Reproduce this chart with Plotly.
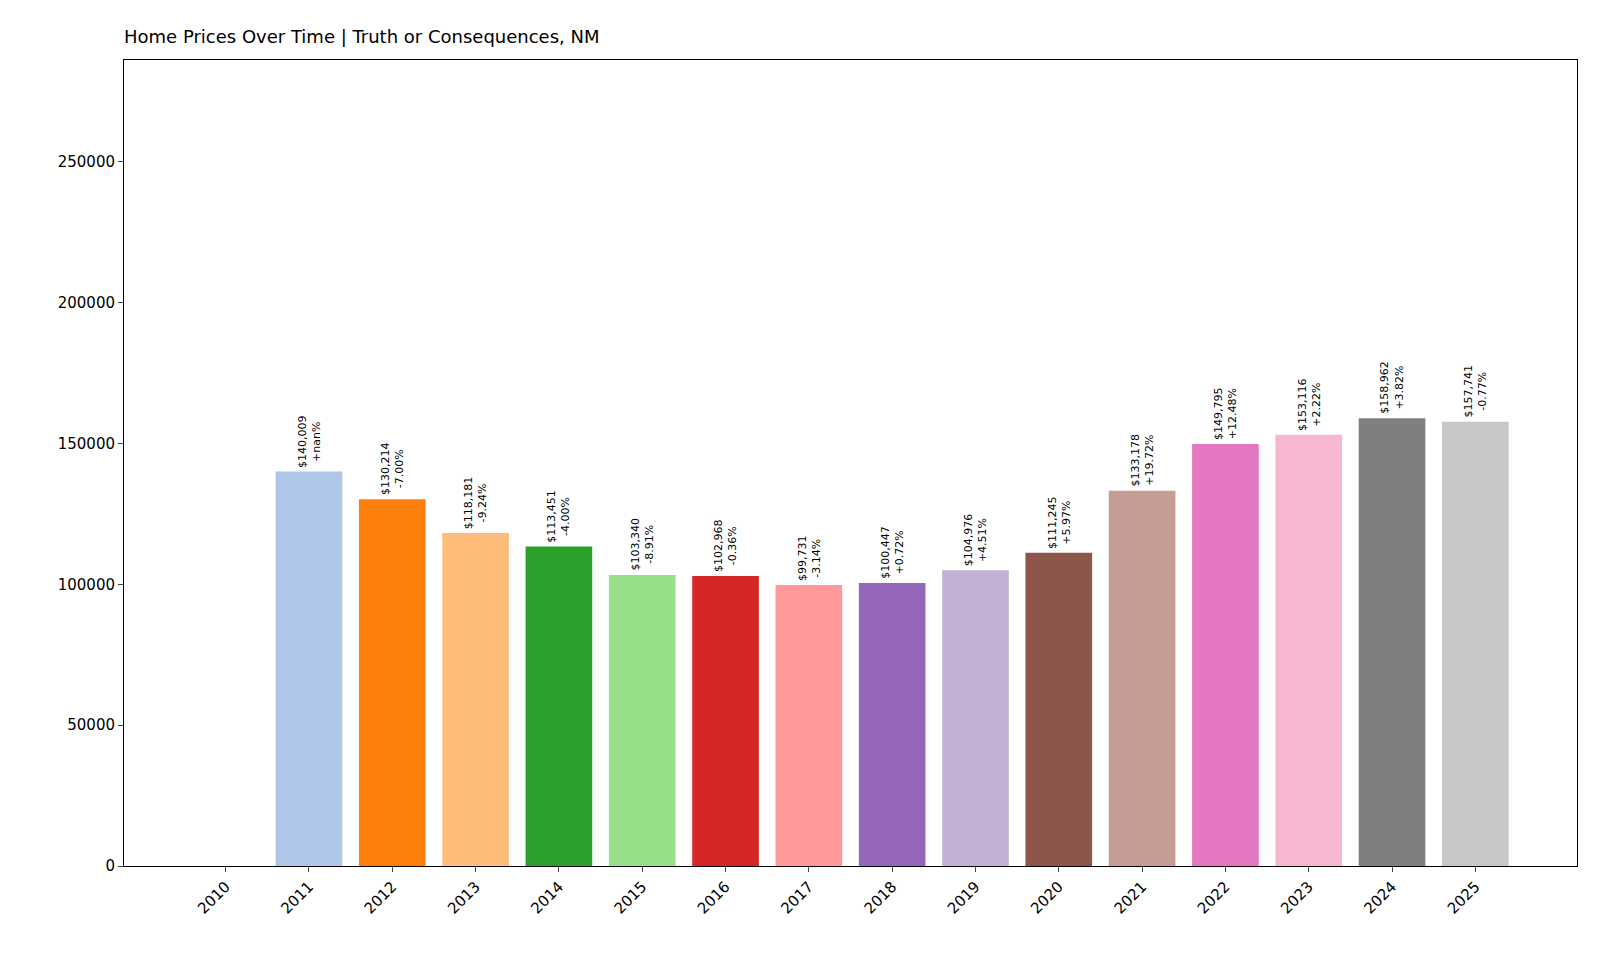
import plotly.graph_objects as go

years = [str(y) for y in range(2010, 2026)]
values = [0, 140009, 130214, 118181, 113451, 103340, 102968, 99731, 100447, 104976,
          111245, 133178, 149795, 153116, 158962, 157741]
changes = [None, "+nan%", "-7.00%", "-9.24%", "-4.00%", "-8.91%", "-0.36%", "-3.14%", "+0.72%",
           "+4.51%", "+5.97%", "+19.72%", "+12.48%", "+2.22%", "+3.82%", "-0.77%"]
colors = ["#1f77b4", "#aec7e8", "#ff7f0e", "#ffbb78", "#2ca02c", "#98df8a", "#d62728", "#ff9896",
          "#9467bd", "#c5b0d5", "#8c564b", "#c49c94", "#e377c2", "#f7b6d2", "#7f7f7f", "#c7c7c7"]

xs = list(range(len(years)))
fig = go.Figure(go.Bar(x=xs, y=values, marker_color=colors, width=0.8, marker_line_width=0))
for i, (v, c) in enumerate(zip(values, changes)):
    if c is None:
        continue
    fig.add_annotation(x=i, y=v, text=f"${v:,}<br>{c}", textangle=-90, showarrow=False,
                       xanchor="center", yanchor="bottom", yshift=2,
                       font=dict(size=11, color="black", family="DejaVu Sans"))
fig.update_layout(
    width=1600, height=960, plot_bgcolor="white", paper_bgcolor="white",
    margin=dict(l=116, r=31, t=52, b=102), showlegend=False,
    font=dict(family="DejaVu Sans", size=15, color="black"),
    title=dict(text="Home Prices Over Time | Truth or Consequences, NM", x=116/1600, xanchor="left",
               y=1-29/960, yanchor="middle", font=dict(size=18)),
)
fig.update_xaxes(range=[-1.22, 16.22], tickvals=xs, ticktext=years, tickangle=-45,
                 showline=True, mirror=True, linecolor="black", linewidth=1,
                 ticks="outside", ticklen=5, showgrid=False, zeroline=False)
fig.update_yaxes(range=[0, 286131], tickvals=[0, 50000, 100000, 150000, 200000, 250000],
                 ticktext=["0", "50000", "100000", "150000", "200000", "250000"],
                 showline=True, mirror=True, linecolor="black", linewidth=1,
                 ticks="outside", ticklen=5, showgrid=False, zeroline=False)
fig.write_html("out.html")
